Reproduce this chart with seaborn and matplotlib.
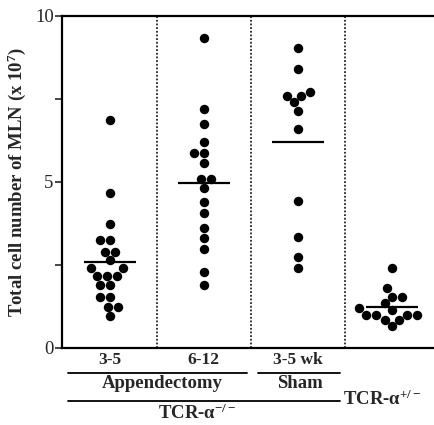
import numpy as np
import pandas as pd
import matplotlib
matplotlib.use("Agg")
import matplotlib.pyplot as plt
from matplotlib.lines import Line2D
import seaborn as sns

# ---- data (x 10^7 cells) ----
groups = ["Appx 3-5", "Appx 6-12", "Sham 3-5 wk", "TCR+/-"]
tick_labels = ["3-5", "6-12", "3-5 wk", ""]
appx_3_5 = [6.87, 4.67, 3.73, 3.25, 3.25, 2.9, 2.9, 2.65, 2.4, 2.4,
            2.17, 2.17, 2.17, 1.9, 1.9, 1.54, 1.54, 1.24, 1.24, 0.96]
appx_6_12 = [9.34, 7.2, 6.75, 6.2, 5.87, 5.87, 5.57, 5.09, 5.09, 4.82,
             4.4, 4.07, 3.6, 3.3, 2.98, 2.29, 1.9]
sham_3_5 = [9.04, 8.4, 7.7, 7.6, 7.6, 7.4, 7.14, 6.6, 4.43, 3.34, 2.74, 2.41]
tcr_het = [2.4, 1.8, 1.55, 1.55, 1.35, 1.2, 1.15, 1.0, 1.0, 1.0, 1.0,
           0.85, 0.85, 0.65]

values = [appx_3_5, appx_6_12, sham_3_5, tcr_het]
df = pd.DataFrame({
    "group": np.concatenate([[g] * len(v) for g, v in zip(groups, values)]),
    "value": np.concatenate(values),
})

sns.set_style("ticks")
plt.rcParams["font.family"] = ["Liberation Serif", "DejaVu Serif"]
plt.rcParams["mathtext.fontset"] = "custom"
plt.rcParams["mathtext.rm"] = "Liberation Serif"
plt.rcParams["mathtext.bf"] = "Liberation Serif:bold"
plt.rcParams["mathtext.it"] = "Liberation Serif:italic"

W, H = 435, 425
fig = plt.figure(figsize=(W / 100, H / 100), dpi=100)
ax = fig.add_axes([62 / W, 1 - 348 / H, 1 - 62 / W, (348 - 16) / H])

sns.swarmplot(data=df, x="group", y="value", order=groups, color="black",
              size=6.8, ax=ax, zorder=3)
sns.pointplot(data=df, x="group", y="value", order=groups, estimator="mean",
              errorbar=None, color="black", marker="_", markersize=38,
              markeredgewidth=1.6, linestyle="none", ax=ax, zorder=4)

ax.set_xlim(-0.51, 3.46)
ax.set_ylim(0, 10)
ax.set_yticks([0, 2.5, 5, 7.5, 10])
ax.set_yticklabels(["0", "", "5", "", "10"], fontsize=13.5)
ax.set_xticks(range(4))
ax.set_xticklabels(tick_labels, fontsize=12.5, fontweight="bold")
ax.tick_params(axis="x", length=0, pad=3)
ax.tick_params(axis="y", length=5, width=1.2, direction="out", pad=1)
ax.set_xlabel("")
ax.set_ylabel("Total cell number of MLN (x 10$^{\\mathbf{7}}$)",
              fontsize=13.5, fontweight="bold", labelpad=5)

for s in ["left", "top", "bottom"]:
    ax.spines[s].set_visible(True)
    ax.spines[s].set_linewidth(1.6)
    ax.spines[s].set_color("black")
ax.spines["right"].set_visible(False)

for xd in [0.5, 1.5, 2.5]:
    ax.axvline(xd, color="black", linestyle=(0, (1.2, 1.2)), linewidth=1.1,
               zorder=1)

def fx(px):
    return px / W

def fy(py):
    return 1 - py / H

for (x0, x1, y) in [(68, 247, 373), (258, 340, 373), (68, 340, 401)]:
    fig.add_artist(Line2D([fx(x0), fx(x1)], [fy(y), fy(y)], color="black",
                          linewidth=1.3))

fig.text(fx(162), fy(383), "Appendectomy", ha="center", va="center",
         fontsize=13.5, fontweight="bold")
fig.text(fx(300), fy(383), "Sham", ha="center", va="center",
         fontsize=13.5, fontweight="bold")
fig.text(fx(197), fy(413), "TCR-α$^{\\mathbf{-/-}}$", ha="center", va="center",
         fontsize=13.5, fontweight="bold")
fig.text(fx(343), fy(399), "TCR-α$^{\\mathbf{+/-}}$", ha="left", va="center",
         fontsize=13.5, fontweight="bold")

fig.savefig("out.png", dpi=100)
